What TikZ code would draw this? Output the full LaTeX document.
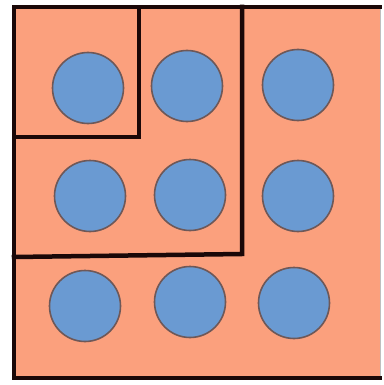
\documentclass[tikz,border=0pt]{standalone}
\definecolor{salmon}{HTML}{FBA07D}
\definecolor{dotblue}{HTML}{6A9AD2}
\definecolor{dotedge}{HTML}{6E5858}
\definecolor{ink}{HTML}{1A0808}
\tikzset{
  dot/.style={circle, fill=dotblue, draw=dotedge, line width=1.6pt, minimum size=71pt, inner sep=0pt},
  wall/.style={draw=ink, line width=4.5pt, line cap=rect, line join=miter}
}
\begin{document}
\begin{tikzpicture}[x=1pt,y=-1pt]
\useasboundingbox (0,0) rectangle (383,385);
\fill[salmon] (14,7) rectangle (380,378);
\draw[draw=black!25, line width=0.8pt] (380,7) -- (380,378);
% circles
\node[dot] (c11) at (88,88) {};
\node[dot] (c12) at (187,86) {};
\node[dot] (c13) at (298,85) {};
\node[dot] (c21) at (90,196) {};
\node[dot] (c22) at (190,195) {};
\node[dot] (c23) at (298,196) {};
\node[dot] (c31) at (85,306) {};
\node[dot] (c32) at (190,302) {};
\node[dot] (c33) at (294,303) {};
% walls
\draw[wall] (380,7) -- (14,7) -- (14,378) -- (380,378);
\draw[wall] (139,7) -- (139,137) -- (14,137);
\draw[wall] (242,7) -- (242,254) -- (14,257);
\end{tikzpicture}
\end{document}
